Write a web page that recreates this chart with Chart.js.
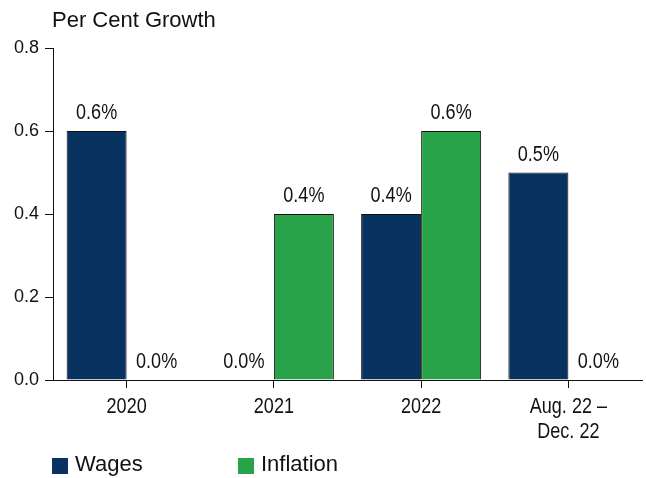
<!DOCTYPE html>
<html>
<head>
<meta charset="utf-8">
<script src="https://cdn.jsdelivr.net/npm/chart.js@4/dist/chart.umd.min.js"></script>
<style>
  html, body { margin: 0; padding: 0; background: #fff; }
  #wrap { width: 646px; height: 478px; position: relative; }
</style>
</head>
<body>
<div id="wrap"><canvas id="chart" width="646" height="478"></canvas></div>
<script>
  // data
  const categories = ['2020', '2021', '2022', ['Aug. 22 –', 'Dec. 22']];
  const wages = [0.6, 0.0, 0.4, 0.5];
  const inflation = [0.0, 0.4, 0.6, 0.0];
  const yTicks = [0, 0.2, 0.4, 0.6, 0.8];
  const axisTitle = 'Per Cent Growth';

  const NAVY = '#08325f';
  const GREEN = '#29a34a';
  const SANS = '"Liberation Sans", Arial, sans-serif';

  // condensed text (no narrow font installed, so squeeze it)
  function narrowText(ctx, text, x, y) {
    ctx.save();
    ctx.translate(x, y);
    ctx.scale(0.82, 1);
    ctx.fillText(text, 0, 0);
    ctx.restore();
  }

  // value labels above bars
  const barLabels = {
    id: 'barLabels',
    afterDatasetsDraw(chart) {
      const ctx = chart.ctx;
      ctx.save();
      ctx.fillStyle = '#111';
      ctx.font = '22px ' + SANS;
      ctx.textAlign = 'center';
      ctx.textBaseline = 'alphabetic';
      chart.data.datasets.forEach((ds, i) => {
        chart.getDatasetMeta(i).data.forEach((bar, j) => {
          narrowText(ctx, ds.data[j].toFixed(1) + '%', bar.x, bar.y - 12);
        });
      });
      ctx.restore();
    }
  };

  // category labels, title and legend
  const extras = {
    id: 'extras',
    afterDraw(chart) {
      const ctx = chart.ctx;
      const area = chart.chartArea;
      const xs = chart.scales.x;
      ctx.save();
      ctx.fillStyle = '#111';
      ctx.font = '22px ' + SANS;
      ctx.textAlign = 'center';
      ctx.textBaseline = 'alphabetic';
      categories.forEach((lab, i) => {
        const lines = Array.isArray(lab) ? lab : [lab];
        const x = xs.getPixelForTick(i);
        lines.forEach((ln, k) => narrowText(ctx, ln, x, area.bottom + 33 + k * 25));
      });

      ctx.textAlign = 'left';
      ctx.fillText(axisTitle, area.left - 1, 27);

      ctx.textBaseline = 'middle';
      chart.data.datasets.forEach((ds, i) => {
        const x = area.left - 1 + i * 186;
        ctx.fillStyle = ds.backgroundColor;
        ctx.fillRect(x, 458, 16, 16);
        ctx.fillStyle = '#111';
        ctx.fillText(ds.label, x + 23, 465);
      });
      ctx.restore();
    }
  };

  new Chart(document.getElementById('chart'), {
    type: 'bar',
    data: {
      labels: categories,
      datasets: [
        { label: 'Wages', data: wages, backgroundColor: NAVY, borderColor: '#111', borderWidth: 1 },
        { label: 'Inflation', data: inflation, backgroundColor: GREEN, borderColor: '#111', borderWidth: 1 }
      ]
    },
    options: {
      responsive: false,
      animation: false,
      events: [],
      layout: { padding: { top: 48, right: 4, bottom: 0, left: 0 } },
      datasets: { bar: { categoryPercentage: 0.815, barPercentage: 1.0 } },
      plugins: {
        legend: { display: false },
        tooltip: { enabled: false }
      },
      scales: {
        x: {
          afterFit(scale) { scale.height = 98; },
          grid: { display: true, drawOnChartArea: false, offset: false, tickLength: 8, color: '#111', lineWidth: 1 },
          border: { display: true, color: '#111', width: 1 },
          ticks: { display: false, autoSkip: false }
        },
        y: {
          min: 0,
          max: 0.8,
          afterFit(scale) { scale.width = 53; },
          afterBuildTicks(scale) { scale.ticks = yTicks.map(v => ({ value: v })); },
          grid: { display: true, drawOnChartArea: false, tickLength: 8, color: '#111', lineWidth: 1 },
          border: { display: true, color: '#111', width: 1 },
          ticks: {
            color: '#111',
            font: { family: SANS, size: 18 },
            padding: 6,
            callback: v => v.toFixed(1)
          }
        }
      }
    },
    plugins: [barLabels, extras]
  });
</script>
</body>
</html>
